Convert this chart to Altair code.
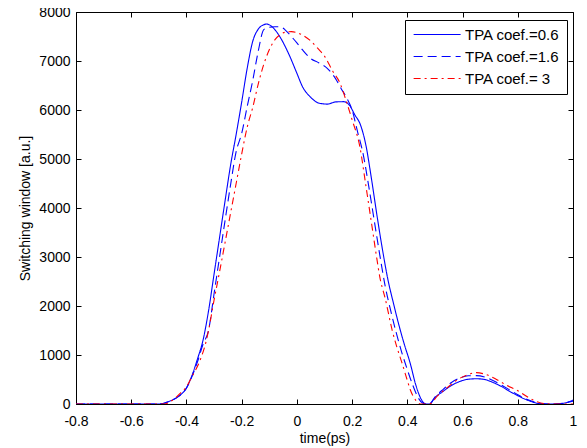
import altair as alt
import pandas as pd

series_names = ["TPA coef.=0.6", "TPA coef.=1.6", "TPA coef.= 3"]

x_06 = [-0.8, -0.6, -0.5, -0.46, -0.43, -0.40, -0.38, -0.36, -0.34, -0.32, -0.30, -0.28, -0.26, -0.24,
        -0.22, -0.20, -0.18, -0.16, -0.14, -0.12, -0.11, -0.09, -0.06, -0.03, 0.0, 0.02, 0.05, 0.08,
        0.11, 0.14, 0.17, 0.19, 0.21, 0.23, 0.25, 0.27, 0.29, 0.31, 0.33, 0.35, 0.37, 0.39, 0.41,
        0.43, 0.45, 0.46, 0.47, 0.48, 0.50, 0.53, 0.56, 0.59, 0.62, 0.65, 0.68, 0.71, 0.74, 0.77,
        0.80, 0.83, 0.86, 0.88, 0.92, 0.96, 1.0]
y_06 = [0, 0, 0, 60, 150, 330, 580, 920, 1300, 1900, 2650, 3400, 4150, 4880,
        5500, 6160, 6850, 7400, 7650, 7740, 7755, 7700, 7480, 7150, 6750, 6480, 6260, 6140,
        6120, 6165, 6170, 6100, 5900, 5700, 5280, 4600, 3850, 3150, 2530, 2050, 1600, 1200, 840,
        400, 100, 20, 0, 0, 130, 260, 380, 460, 505, 515, 500, 440, 360, 260,
        170, 90, 30, 5, 0, 10, 80]

x_16 = [-0.8, -0.6, -0.5, -0.46, -0.43, -0.40, -0.38, -0.36, -0.34, -0.32, -0.30, -0.28, -0.26, -0.24,
        -0.22, -0.20, -0.18, -0.16, -0.14, -0.12, -0.10, -0.08, -0.06, -0.04, -0.02, 0.0, 0.02, 0.05,
        0.08, 0.11, 0.14, 0.16, 0.18, 0.20, 0.22, 0.24, 0.26, 0.28, 0.30, 0.32, 0.34, 0.36, 0.38,
        0.40, 0.42, 0.44, 0.455, 0.47, 0.48, 0.50, 0.53, 0.56, 0.59, 0.62, 0.65, 0.68, 0.71, 0.74,
        0.77, 0.80, 0.83, 0.86, 0.89, 0.93, 0.97, 1.0]
y_16 = [0, 0, 0, 60, 150, 320, 560, 860, 1220, 1500, 2250, 3000, 3750, 4480,
        5150, 5520, 6070, 6600, 7200, 7640, 7690, 7700, 7700, 7620, 7500, 7370, 7230, 7050,
        6960, 6850, 6640, 6440, 6250, 6000, 5550, 5100, 4450, 3750, 3050, 2400, 1900, 1450, 1050,
        700, 380, 120, 20, 0, 0, 140, 300, 440, 530, 575, 580, 550, 480, 390,
        290, 190, 100, 40, 5, 0, 20, 60]

x_3 = [-0.8, -0.6, -0.48, -0.45, -0.42, -0.40, -0.38, -0.35, -0.33, -0.32, -0.30, -0.28, -0.26, -0.24,
       -0.22, -0.20, -0.18, -0.16, -0.14, -0.12, -0.10, -0.08, -0.06, -0.04, -0.02, 0.0, 0.02, 0.05,
       0.08, 0.10, 0.13, 0.156, 0.18, 0.20, 0.228, 0.25, 0.27, 0.29, 0.30, 0.32, 0.345, 0.36, 0.38,
       0.40, 0.41, 0.43, 0.44, 0.45, 0.48, 0.51, 0.55, 0.58, 0.62, 0.65, 0.68, 0.72, 0.76, 0.80,
       0.84, 0.87, 0.90, 0.93, 1.0]
y_3 = [0, 0, 0, 80, 230, 350, 560, 900, 1250, 1500, 2120, 2700, 3300, 3900,
       4500, 5100, 5650, 6050, 6530, 6930, 7230, 7430, 7540, 7590, 7600, 7580, 7530, 7410,
       7230, 7100, 6790, 6550, 6160, 5800, 5251, 4450, 3700, 2950, 2600, 2150, 1510, 1200, 850,
       480, 300, 80, 20, 0, 0, 170, 360, 490, 600, 640, 610, 510, 380, 270,
       130, 45, 5, 0, 0]

x_ticks = [-0.8, -0.6, -0.4, -0.2, 0, 0.2, 0.4, 0.6, 0.8, 1]
y_ticks = [0, 1000, 2000, 3000, 4000, 5000, 6000, 7000, 8000]

rows = []
for name, xs, ys in zip(series_names, [x_06, x_16, x_3], [y_06, y_16, y_3]):
    for i, (xv, yv) in enumerate(zip(xs, ys)):
        rows.append({"series": name, "t": xv, "v": yv, "i": i})
df = pd.DataFrame(rows)

FONT = "Liberation Sans"

xscale = alt.Scale(domain=[-0.8, 1], nice=False, zero=False)
yscale = alt.Scale(domain=[0, 8000], nice=False)

legend = alt.Legend(title=None, orient="none", legendX=329, legendY=8,
                    strokeColor="black", fillColor="white", padding=7,
                    labelFont=FONT, labelFontSize=15, labelColor="black",
                    symbolType="M-1,0H7", symbolSize=138, symbolStrokeWidth=1.1,
                    symbolStrokeColor="#0000ff",
                    rowPadding=6, labelOffset=38, cornerRadius=0)

lines = alt.Chart(df).mark_line(strokeWidth=1.1, interpolate="monotone", clip=True).encode(
    x=alt.X("t:Q", scale=xscale,
            axis=alt.Axis(orient="bottom", values=x_ticks, labelExpr="'' + datum.value",
                          offset=-5, tickSize=5, domain=False, grid=False, labelPadding=10,
                          title="time(ps)", titlePadding=3, titleFontWeight="normal",
                          labelFontSize=14, titleFontSize=14, labelFont=FONT, titleFont=FONT,
                          labelColor="black", titleColor="black", tickColor="black",
                          labelFlush=False)),
    y=alt.Y("v:Q", scale=yscale,
            axis=alt.Axis(orient="left", values=y_ticks, labelExpr="'' + datum.value",
                          offset=-5, tickSize=5, domain=False,
                          grid=False, labelPadding=6, title="Switching window [a.u.]",
                          titlePadding=6, titleFontWeight="normal",
                          labelFontSize=14, titleFontSize=14, labelFont=FONT, titleFont=FONT,
                          labelColor="black", titleColor="black", tickColor="black",
                          labelFlush=False)),
    color=alt.Color("series:N",
                    scale=alt.Scale(domain=series_names, range=["#0000ff", "#0000ff", "#ff0000"]),
                    legend=legend),
    strokeDash=alt.StrokeDash("series:N",
                              scale=alt.Scale(domain=series_names,
                                              range=[[1, 0], [9, 5], [7, 4, 2, 4]]),
                              legend=legend),
    order="i:Q",
)

frame_axes = alt.Chart(df).mark_point(opacity=0).encode(
    x=alt.X("t:Q", scale=xscale,
            axis=alt.Axis(orient="top", values=x_ticks, offset=-5, tickSize=5, domain=False,
                          labels=False, grid=False, title=None, tickColor="black")),
    y=alt.Y("v:Q", scale=yscale,
            axis=alt.Axis(orient="right", values=y_ticks, offset=-5, tickSize=5, domain=False,
                          labels=False, grid=False, title=None, tickColor="black")),
)

chart = alt.layer(lines, frame_axes).resolve_axis(x="independent", y="independent").properties(
    width=497, height=392,
    autosize=alt.AutoSizeParams(type="none"),
    padding={"left": 68, "top": 4, "right": 6, "bottom": 44},
    background="white",
).configure_view(stroke="black", strokeWidth=1)

chart.save("out.html", embed_options={"renderer": "svg", "actions": False})
